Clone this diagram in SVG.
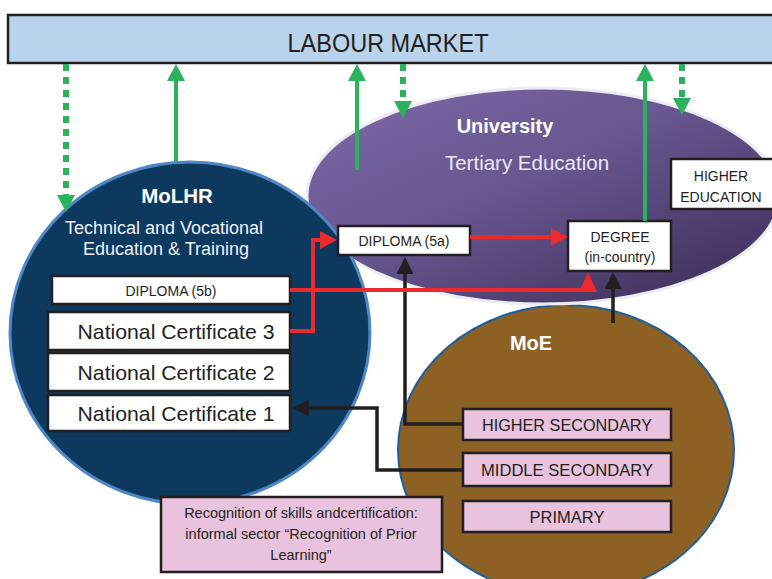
<svg xmlns="http://www.w3.org/2000/svg" width="772" height="579" viewBox="0 0 772 579">
<defs>
<style>
text{font-family:"Liberation Sans",Arial,sans-serif;fill:#231f20;text-anchor:middle}
.box{fill:#ffffff;stroke:#231f20;stroke-width:2.5}
.pink{fill:#e9c2dd;stroke:#231f20;stroke-width:2.5}
.gs{stroke:#2ab35c;stroke-width:4;fill:none}
.gd{stroke:#2ab35c;stroke-width:6;fill:none;stroke-dasharray:7 6}
.bk{stroke:#231f20;stroke-width:3.5;fill:none}
.rd{stroke:#ec2a2d;stroke-width:4;fill:none}
.wt{fill:#ffffff;font-weight:bold}
.lt{fill:#ebe8f3}
.nv{fill:#eef2f7}
</style>
<linearGradient id="uniGrad" x1="0" y1="0" x2="1" y2="1">
<stop offset="0" stop-color="#7d69a8"/>
<stop offset="0.45" stop-color="#67568f"/>
<stop offset="1" stop-color="#382a52"/>
</linearGradient>
<marker id="gA" viewBox="0 0 17 18" refX="1" refY="9" markerWidth="17" markerHeight="18" markerUnits="userSpaceOnUse" orient="auto"><path d="M0,0 L17,9 L0,18 z" fill="#2ab35c"/></marker>
<marker id="bA" viewBox="0 0 17 17" refX="1" refY="8.5" markerWidth="17" markerHeight="17" markerUnits="userSpaceOnUse" orient="auto"><path d="M0,0 L17,8.5 L0,17 z" fill="#231f20"/></marker>
<marker id="rA" viewBox="0 0 17 18" refX="1" refY="9" markerWidth="17" markerHeight="18" markerUnits="userSpaceOnUse" orient="auto"><path d="M0,0 L17,9 L0,18 z" fill="#ec2a2d"/></marker>
</defs>
<rect width="772" height="579" fill="#ffffff"/>

<g id="labour-market">
<rect x="8" y="15" width="775" height="48" fill="#b8d3eb" stroke="#231f20" stroke-width="2.5"/>
<text x="388" y="52" font-size="25" textLength="201" lengthAdjust="spacingAndGlyphs">LABOUR MARKET</text>
</g>

<g id="moe">
<ellipse cx="566" cy="450" rx="168" ry="145" fill="#8c6123" stroke="#1f5fa0" stroke-width="2"/>
<text class="wt" x="531" y="350" font-size="20">MoE</text>
</g>

<g id="university">
<ellipse cx="543" cy="196" rx="236" ry="108" fill="url(#uniGrad)" stroke="#ececf2" stroke-width="3"/>
<text class="wt" x="505" y="133" font-size="20">University</text>
<text class="lt" x="527" y="170" font-size="20.5">Tertiary Education</text>
</g>

<g id="molhr">
<ellipse cx="190" cy="333" rx="180" ry="171" fill="#0d395e" stroke="#4f86c6" stroke-width="3"/>
<text class="wt" x="177" y="203" font-size="20.5">MoLHR</text>
<text class="nv" x="164" y="234" font-size="18">Technical and Vocational</text>
<text class="nv" x="166" y="255" font-size="18">Education &amp; Training</text>
</g>

<g id="diploma-5b">
<rect class="box" x="52" y="276" width="238" height="28"/>
<text x="171" y="296" font-size="14">DIPLOMA (5b)</text>
</g>
<g id="nc3">
<rect class="box" x="48" y="312" width="242" height="38"/>
<text x="176" y="339" font-size="21" textLength="197" lengthAdjust="spacingAndGlyphs">National Certificate 3</text>
</g>
<g id="nc2">
<rect class="box" x="48" y="353" width="242" height="38"/>
<text x="176" y="380" font-size="21" textLength="197" lengthAdjust="spacingAndGlyphs">National Certificate 2</text>
</g>
<g id="nc1">
<rect class="box" x="48" y="395" width="242" height="36"/>
<text x="176" y="421" font-size="21" textLength="197" lengthAdjust="spacingAndGlyphs">National Certificate 1</text>
</g>

<g id="diploma-5a">
<rect class="box" x="338" y="226" width="132" height="29"/>
<text x="404" y="246" font-size="14">DIPLOMA (5a)</text>
</g>
<g id="degree">
<rect class="box" x="568" y="221" width="103" height="50"/>
<text x="620" y="242" font-size="14">DEGREE</text>
<text x="620" y="262" font-size="14">(in-country)</text>
</g>
<g id="higher-education">
<rect class="box" x="671" y="159" width="110" height="50"/>
<text x="721" y="181" font-size="14">HIGHER</text>
<text x="721" y="202" font-size="14">EDUCATION</text>
</g>

<g id="higher-secondary">
<rect class="pink" x="463" y="409" width="208" height="31"/>
<text x="567" y="431" font-size="16.5" textLength="170" lengthAdjust="spacingAndGlyphs">HIGHER SECONDARY</text>
</g>
<g id="middle-secondary">
<rect class="pink" x="463" y="453" width="208" height="33"/>
<text x="567" y="476" font-size="16.5" textLength="172" lengthAdjust="spacingAndGlyphs">MIDDLE SECONDARY</text>
</g>
<g id="primary">
<rect class="pink" x="463" y="501" width="208" height="31"/>
<text x="567" y="523" font-size="16.5">PRIMARY</text>
</g>

<g id="rpl">
<rect class="pink" x="161" y="497" width="281" height="75"/>
<text x="301" y="518" font-size="14.5">Recognition of skills andcertification:</text>
<text x="301" y="539" font-size="14.5">informal sector “Recognition of Prior</text>
<text x="301" y="560" font-size="14.5">Learning”</text>
</g>

<g id="connectors">
<path class="gs" d="M176,162 V80" marker-end="url(#gA)"/>
<path class="gs" d="M357,170 V80" marker-end="url(#gA)"/>
<path class="gs" d="M645,221 V80" marker-end="url(#gA)"/>
<path class="gd" d="M66,64 V196" marker-end="url(#gA)"/>
<path class="gd" d="M403,64 V102" marker-end="url(#gA)"/>
<path class="gd" d="M682,64 V99" marker-end="url(#gA)"/>
<path class="bk" d="M463,424 H405 V273" marker-end="url(#bA)"/>
<path class="bk" d="M613,323 V288" marker-end="url(#bA)"/>
<path class="bk" d="M463,470 H377 V408 H308" marker-end="url(#bA)"/>
<path class="rd" d="M290,331 H313 V240 H321" marker-end="url(#rA)"/>
<path class="rd" d="M470,237 H552" marker-end="url(#rA)"/>
<path class="rd" d="M290,290 H588"/>
<polygon points="579,292 597,292 588,272" fill="#ec2a2d"/>
</g>
</svg>
